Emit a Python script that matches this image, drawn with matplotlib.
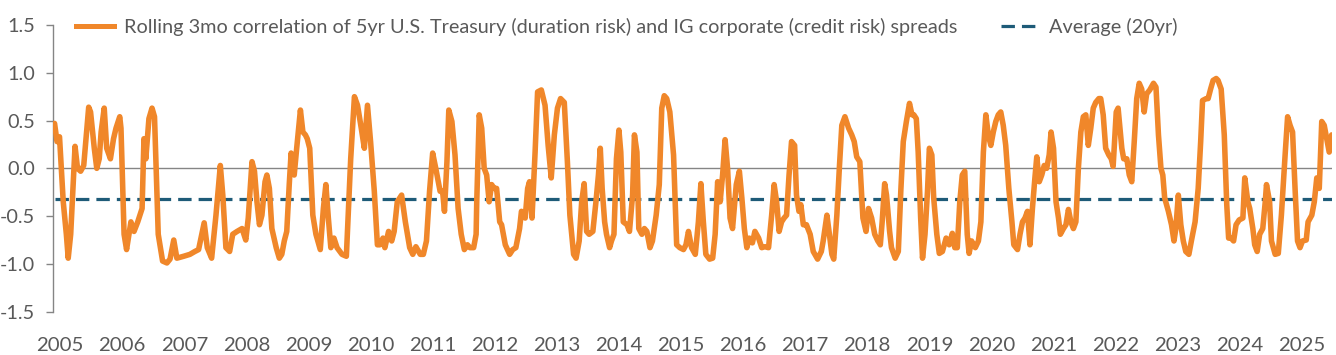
import matplotlib
matplotlib.use("Agg")
import matplotlib.pyplot as plt
from matplotlib.lines import Line2D
from matplotlib import font_manager

# ---- data (decimal year, rolling 3mo correlation) ----
years = [
    2004.91, 2004.95, 2004.99, 2005.05, 2005.10, 2005.13, 2005.17, 2005.24, 2005.28, 2005.33,
    2005.38, 2005.46, 2005.49, 2005.55, 2005.59, 2005.63, 2005.66, 2005.71, 2005.75, 2005.81,
    2005.86, 2005.90, 2005.96, 2005.98, 2006.03, 2006.07, 2006.14, 2006.19, 2006.25, 2006.32,
    2006.35, 2006.38, 2006.43, 2006.48, 2006.52, 2006.58, 2006.65, 2006.72, 2006.77, 2006.83,
    2006.88, 2006.99, 2007.09, 2007.17, 2007.23, 2007.32, 2007.37, 2007.44, 2007.51, 2007.58,
    2007.62, 2007.67, 2007.73, 2007.78, 2007.85, 2007.93, 2007.99, 2008.03, 2008.09, 2008.13,
    2008.17, 2008.21, 2008.25, 2008.30, 2008.33, 2008.37, 2008.41, 2008.48, 2008.53, 2008.57,
    2008.61, 2008.65, 2008.69, 2008.72, 2008.77, 2008.81, 2008.87, 2008.91, 2008.95, 2008.98,
    2009.02, 2009.07, 2009.12, 2009.19, 2009.24, 2009.28, 2009.32, 2009.36, 2009.41, 2009.46,
    2009.54, 2009.61, 2009.64, 2009.68, 2009.74, 2009.79, 2009.85, 2009.90, 2009.95, 2010.00,
    2010.06, 2010.11, 2010.15, 2010.20, 2010.23, 2010.29, 2010.34, 2010.38, 2010.43, 2010.50,
    2010.56, 2010.63, 2010.68, 2010.73, 2010.80, 2010.85, 2010.90, 2010.95, 2011.00, 2011.05,
    2011.12, 2011.16, 2011.19, 2011.23, 2011.26, 2011.31, 2011.36, 2011.41, 2011.46, 2011.51,
    2011.56, 2011.60, 2011.66, 2011.70, 2011.71, 2011.75, 2011.79, 2011.83, 2011.87, 2011.91,
    2011.95, 2011.99, 2012.03, 2012.08, 2012.11, 2012.17, 2012.24, 2012.29, 2012.34, 2012.40,
    2012.43, 2012.49, 2012.53, 2012.56, 2012.60, 2012.65, 2012.69, 2012.75, 2012.81, 2012.86,
    2012.91, 2012.96, 2013.01, 2013.06, 2013.12, 2013.17, 2013.21, 2013.27, 2013.31, 2013.36,
    2013.40, 2013.44, 2013.48, 2013.52, 2013.58, 2013.63, 2013.67, 2013.70, 2013.73, 2013.77,
    2013.80, 2013.85, 2013.88, 2013.92, 2013.96, 2014.00, 2014.03, 2014.07, 2014.13, 2014.17,
    2014.22, 2014.25, 2014.29, 2014.32, 2014.37, 2014.41, 2014.45, 2014.50, 2014.54, 2014.60,
    2014.65, 2014.69, 2014.73, 2014.77, 2014.82, 2014.88, 2014.93, 2014.98, 2015.04, 2015.08,
    2015.12, 2015.17, 2015.23, 2015.28, 2015.32, 2015.36, 2015.40, 2015.46, 2015.51, 2015.55,
    2015.59, 2015.63, 2015.67, 2015.71, 2015.75, 2015.79, 2015.83, 2015.89, 2015.94, 2015.98,
    2016.02, 2016.06, 2016.10, 2016.15, 2016.19, 2016.25, 2016.30, 2016.35, 2016.41, 2016.46,
    2016.50, 2016.54, 2016.58, 2016.62, 2016.66, 2016.70, 2016.74, 2016.78, 2016.83, 2016.86,
    2016.90, 2016.93, 2016.97, 2017.02, 2017.08, 2017.13, 2017.20, 2017.26, 2017.29, 2017.35,
    2017.39, 2017.43, 2017.46, 2017.51, 2017.55, 2017.59, 2017.64, 2017.70, 2017.75, 2017.79,
    2017.83, 2017.88, 2017.93, 2017.98, 2018.02, 2018.07, 2018.12, 2018.17, 2018.21, 2018.24,
    2018.28, 2018.31, 2018.36, 2018.39, 2018.45, 2018.50, 2018.54, 2018.58, 2018.63, 2018.68,
    2018.72, 2018.75, 2018.79, 2018.82, 2018.86, 2018.89, 2018.93, 2018.97, 2019.00, 2019.04,
    2019.07, 2019.12, 2019.16, 2019.21, 2019.27, 2019.32, 2019.37, 2019.41, 2019.45, 2019.49,
    2019.53, 2019.57, 2019.61, 2019.64, 2019.68, 2019.74, 2019.79, 2019.83, 2019.87, 2019.91,
    2019.95, 2019.99, 2020.03, 2020.07, 2020.11, 2020.15, 2020.19, 2020.23, 2020.28, 2020.33,
    2020.36, 2020.42, 2020.46, 2020.50, 2020.54, 2020.58, 2020.62, 2020.66, 2020.70, 2020.73,
    2020.77, 2020.81, 2020.85, 2020.89, 2020.93, 2020.96, 2021.00, 2021.04, 2021.08, 2021.11,
    2021.16, 2021.20, 2021.24, 2021.28, 2021.32, 2021.36, 2021.40, 2021.44, 2021.48, 2021.52,
    2021.56, 2021.60, 2021.64, 2021.68, 2021.73, 2021.76, 2021.80, 2021.84, 2021.89, 2021.93,
    2021.96, 2022.01, 2022.04, 2022.07, 2022.10, 2022.13, 2022.18, 2022.22, 2022.26, 2022.30,
    2022.34, 2022.38, 2022.42, 2022.46, 2022.50, 2022.55, 2022.61, 2022.65, 2022.69, 2022.73,
    2022.76, 2022.79, 2022.85, 2022.90, 2022.94, 2022.97, 2023.01, 2023.05, 2023.09, 2023.13,
    2023.18, 2023.22, 2023.28, 2023.33, 2023.37, 2023.40, 2023.46, 2023.49, 2023.53, 2023.57,
    2023.62, 2023.65, 2023.70, 2023.75, 2023.79, 2023.82, 2023.86, 2023.90, 2023.94, 2023.99,
    2024.05, 2024.08, 2024.13, 2024.16, 2024.21, 2024.24, 2024.28, 2024.32, 2024.37, 2024.41,
    2024.43, 2024.48, 2024.51, 2024.57, 2024.62, 2024.67, 2024.73, 2024.77, 2024.81, 2024.85,
    2024.89, 2024.93, 2024.97, 2025.01, 2025.07, 2025.10, 2025.16, 2025.20, 2025.24, 2025.28,
    2025.32, 2025.36, 2025.40, 2025.44, 2025.48,
]
corr = [
    0.47, 0.28, 0.33, -0.35, -0.69, -0.94, -0.69, 0.23, 0.00, -0.03,
    0.03, 0.64, 0.59, 0.21, 0.00, 0.10, 0.38, 0.63, 0.21, 0.10,
    0.31, 0.42, 0.54, 0.42, -0.69, -0.85, -0.56, -0.66, -0.56, -0.42,
    0.31, 0.10, 0.52, 0.63, 0.54, -0.69, -0.97, -0.99, -0.95, -0.75,
    -0.94, -0.92, -0.90, -0.87, -0.85, -0.57, -0.83, -0.94, -0.49, 0.03,
    -0.28, -0.83, -0.87, -0.69, -0.66, -0.63, -0.75, -0.52, 0.07, -0.03,
    -0.35, -0.59, -0.49, -0.14, -0.07, -0.21, -0.63, -0.83, -0.94, -0.90,
    -0.76, -0.66, -0.17, 0.16, -0.07, 0.21, 0.61, 0.38, 0.35, 0.31,
    0.21, -0.49, -0.69, -0.85, -0.42, -0.17, -0.52, -0.83, -0.73, -0.83,
    -0.90, -0.92, -0.49, 0.10, 0.75, 0.66, 0.42, 0.21, 0.66, 0.28,
    -0.24, -0.80, -0.80, -0.73, -0.83, -0.66, -0.76, -0.66, -0.35, -0.28,
    -0.56, -0.83, -0.90, -0.82, -0.90, -0.90, -0.76, -0.24, 0.16, 0.00,
    -0.24, -0.24, -0.45, 0.07, 0.61, 0.49, 0.14, -0.42, -0.69, -0.85,
    -0.80, -0.83, -0.83, -0.69, -0.35, 0.56, 0.42, 0.00, -0.07, -0.35,
    -0.17, -0.21, -0.21, -0.56, -0.59, -0.80, -0.90, -0.85, -0.83, -0.63,
    -0.45, -0.52, -0.21, -0.14, -0.52, 0.17, 0.80, 0.82, 0.66, 0.24,
    -0.10, 0.35, 0.63, 0.73, 0.69, 0.07, -0.49, -0.90, -0.94, -0.76,
    -0.35, -0.16, -0.66, -0.69, -0.66, -0.35, -0.07, 0.21, -0.21, -0.56,
    -0.69, -0.83, -0.76, -0.69, 0.10, 0.40, 0.17, -0.56, -0.59, -0.66,
    -0.28, 0.35, 0.17, -0.63, -0.69, -0.63, -0.66, -0.83, -0.76, -0.49,
    -0.17, 0.63, 0.76, 0.73, 0.59, 0.14, -0.80, -0.83, -0.85, -0.80,
    -0.66, -0.83, -0.90, -0.56, -0.16, -0.56, -0.90, -0.95, -0.94, -0.69,
    -0.14, -0.35, -0.07, 0.30, 0.00, -0.52, -0.63, -0.17, -0.03, -0.31,
    -0.63, -0.83, -0.73, -0.78, -0.66, -0.73, -0.83, -0.82, -0.83, -0.49,
    -0.17, -0.35, -0.66, -0.56, -0.52, -0.49, -0.07, 0.28, 0.24, -0.28,
    -0.45, -0.38, -0.59, -0.59, -0.69, -0.87, -0.95, -0.87, -0.76, -0.49,
    -0.69, -0.90, -0.95, -0.49, 0.00, 0.45, 0.54, 0.42, 0.35, 0.28,
    0.12, 0.07, -0.52, -0.66, -0.42, -0.52, -0.69, -0.76, -0.80, -0.56,
    -0.16, -0.28, -0.66, -0.83, -0.94, -0.87, -0.24, 0.28, 0.49, 0.68,
    0.56, 0.56, 0.52, 0.17, -0.52, -0.94, -0.69, -0.24, 0.21, 0.14,
    -0.31, -0.69, -0.89, -0.87, -0.73, -0.80, -0.68, -0.83, -0.83, -0.35,
    -0.07, -0.03, -0.69, -0.89, -0.76, -0.83, -0.76, -0.56, 0.17, 0.56,
    0.35, 0.24, 0.38, 0.49, 0.56, 0.59, 0.45, 0.24, -0.21, -0.56,
    -0.80, -0.85, -0.69, -0.56, -0.52, -0.45, -0.80, -0.42, -0.10, 0.12,
    -0.14, -0.07, 0.03, 0.00, 0.14, 0.38, 0.21, -0.35, -0.52, -0.69,
    -0.63, -0.59, -0.43, -0.56, -0.63, -0.56, 0.00, 0.38, 0.54, 0.56,
    0.24, 0.42, 0.63, 0.69, 0.73, 0.73, 0.56, 0.21, 0.14, 0.10,
    0.02, 0.59, 0.63, 0.42, 0.21, 0.10, 0.10, -0.07, -0.14, 0.28,
    0.73, 0.89, 0.83, 0.59, 0.78, 0.82, 0.89, 0.85, 0.35, 0.00,
    -0.07, -0.31, -0.45, -0.59, -0.76, -0.63, -0.28, -0.59, -0.76, -0.87,
    -0.90, -0.76, -0.56, -0.21, 0.28, 0.71, 0.73, 0.73, 0.83, 0.92,
    0.94, 0.92, 0.83, 0.35, -0.38, -0.73, -0.73, -0.76, -0.59, -0.54,
    -0.52, -0.10, -0.35, -0.42, -0.63, -0.80, -0.87, -0.69, -0.63, -0.35,
    -0.17, -0.35, -0.76, -0.90, -0.89, -0.49, 0.14, 0.54, 0.45, 0.38,
    -0.21, -0.76, -0.83, -0.76, -0.75, -0.56, -0.49, -0.35, -0.10, -0.21,
    0.49, 0.45, 0.31, 0.17, 0.35,
]
average_20yr = -0.32
year_ticks = list(range(2005, 2026))
y_ticks = [-1.5, -1.0, -0.5, 0.0, 0.5, 1.0, 1.5]
series_label = "Rolling 3mo correlation of 5yr U.S. Treasury (duration risk) and IG corporate (credit risk) spreads"
avg_label = "Average (20yr)"

# ---- styling ----
avail = {f.name for f in font_manager.fontManager.ttflist}
family = "Lato" if "Lato" in avail else "DejaVu Sans"
plt.rcParams["font.family"] = family

ORANGE = "#F0872A"
TEAL = "#1E5B78"
TEXT = "#595959"
AXIS = "#858585"
FS = 14.3

fig = plt.figure(figsize=(13.36, 3.55), dpi=100)
ax = fig.add_axes([0.0399, 0.1220, 0.9571, 0.8076])

ax.axhline(0, color=AXIS, lw=1.0, zorder=1)
ax.plot([years[0], years[-1]], [average_20yr, average_20yr], color=TEAL, lw=2.3,
        dashes=(4.2, 2.2), zorder=2)
ax.plot(years, corr, color=ORANGE, lw=4.0, solid_joinstyle="round",
        solid_capstyle="round", zorder=3)

ax.set_xlim(2004.89, 2025.485)
ax.set_ylim(-1.5, 1.5)
ax.set_yticks(y_ticks)
ax.set_yticklabels([f"{v:.1f}" for v in y_ticks])
ax.set_xticks(year_ticks)
ax.set_xticklabels([str(y) for y in year_ticks])

for s in ["top", "right", "bottom"]:
    ax.spines[s].set_visible(False)
ax.spines["left"].set_color(AXIS)
ax.spines["left"].set_linewidth(1.0)
ax.tick_params(axis="y", direction="out", length=5, width=1.0, color=AXIS,
               labelsize=FS, labelcolor=TEXT, pad=8)
ax.tick_params(axis="x", length=0, labelsize=FS + 0.4, labelcolor=TEXT, pad=18)

handles = [
    Line2D([], [], color=ORANGE, lw=3.6),
    Line2D([], [], color=TEAL, lw=2.3, dashes=(4.2, 2.2)),
]
leg = fig.legend(handles, [series_label, avg_label], ncol=2, frameon=False,
                 loc="center left", bbox_to_anchor=(0.057, 0.924),
                 fontsize=FS, handlelength=1.9, handletextpad=0.5,
                 columnspacing=2.2, borderaxespad=0, borderpad=0)
for t in leg.get_texts():
    t.set_color(TEXT)

fig.savefig("out.png", dpi=100)
